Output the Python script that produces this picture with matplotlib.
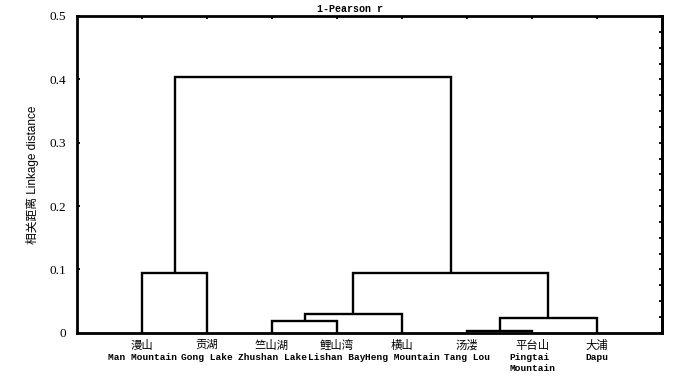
import numpy as np
import matplotlib
matplotlib.use("Agg")
import matplotlib.pyplot as plt
from matplotlib.transforms import blended_transform_factory, offset_copy

# ---- data ----
labels_cn = ["漫山", "贡湖", "竺山湖", "鲤山湾", "横山", "汤溇", "平台山", "大浦"]
labels_en = ["Man Mountain", "Gong Lake", "Zhushan Lake", "Lishan Bay",
             "Heng Mountain", "Tang Lou", "Pingtai\nMountain", "Dapu"]
# merges: (node_a, node_b, height); leaves are 0..7, new clusters numbered 8, 9, ...
merge_a = [0, 2, 9, 5, 11, 10, 8]
merge_b = [1, 3, 4, 6, 7, 12, 13]
merge_h = [0.0937, 0.0177, 0.029, 0.002, 0.0225, 0.0937, 0.403]
yticks = [0, 0.1, 0.2, 0.3, 0.4, 0.5]
ytick_labels = ["0", "0.1", "0.2", "0.3", "0.4", "0.5"]

fig = plt.figure(figsize=(7.0, 3.76), dpi=100)
ax = fig.add_axes([77/700, 1-332.7/376, (662-77)/700, (332.7-16)/376])

n = len(labels_cn)
pos = {i: (i + 1.0, 0.0) for i in range(n)}
lw = 1.7
for k, (a, b, h) in enumerate(zip(merge_a, merge_b, merge_h)):
    xa, ya = pos[a]
    xb, yb = pos[b]
    ax.plot([xa, xa, xb, xb], [ya, h, h, yb], color="black", lw=lw,
            solid_joinstyle="miter", solid_capstyle="butt", clip_on=False)
    pos[n + k] = ((xa + xb) / 2.0, h)

ax.set_xlim(0, n + 1)
ax.set_ylim(0, 0.5)

for s in ax.spines.values():
    s.set_linewidth(2.0)

mono = "Liberation Mono"
cjk = ["Noto Sans CJK SC", "DejaVu Sans"]
ax.set_xticks(np.arange(1, n + 1))
ax.set_xticklabels([])
ax.tick_params(axis="x", bottom=False, top=True, direction="in", length=2.5,
               width=1.3)

trans = blended_transform_factory(ax.transData, ax.transAxes)
px = 72 / 100.0
for i, (c, e) in enumerate(zip(labels_cn, labels_en)):
    ax.text(i + 1, 0, c, transform=offset_copy(trans, fig=fig, y=-12.5 * px, units="points"),
            ha="center", va="center", family=cjk, fontsize=8.2)
    ax.text(i + 1, 0, e, transform=offset_copy(trans, fig=fig, y=-20.0 * px, units="points"),
            ha="center", va="top", family=mono, fontsize=6.8, fontweight="bold",
            linespacing=1.3, multialignment="left")

ax.set_yticks(yticks)
ax.set_yticklabels(ytick_labels, family="Liberation Serif", fontsize=9.5)
ax.tick_params(axis="y", left=True, right=False, direction="in", length=2,
               width=1.3, pad=8)

sec = ax.secondary_yaxis("right")
sec.set_yticks(np.arange(0, 0.5001, 0.025))
sec.set_yticklabels([])
sec.tick_params(direction="in", length=2.5, width=1.3)
sec.spines["right"].set_linewidth(2.0)

ax.set_ylabel("相关距离 Linkage distance", family=["Liberation Sans", "Noto Sans CJK SC"],
              fontsize=8.5, labelpad=7)
fig.text(0.5, 1 - 8.5/376, "1-Pearson r", ha="center", va="center",
         family=mono, fontsize=7.2, fontweight="bold")

fig.savefig("out.png", dpi=100)
